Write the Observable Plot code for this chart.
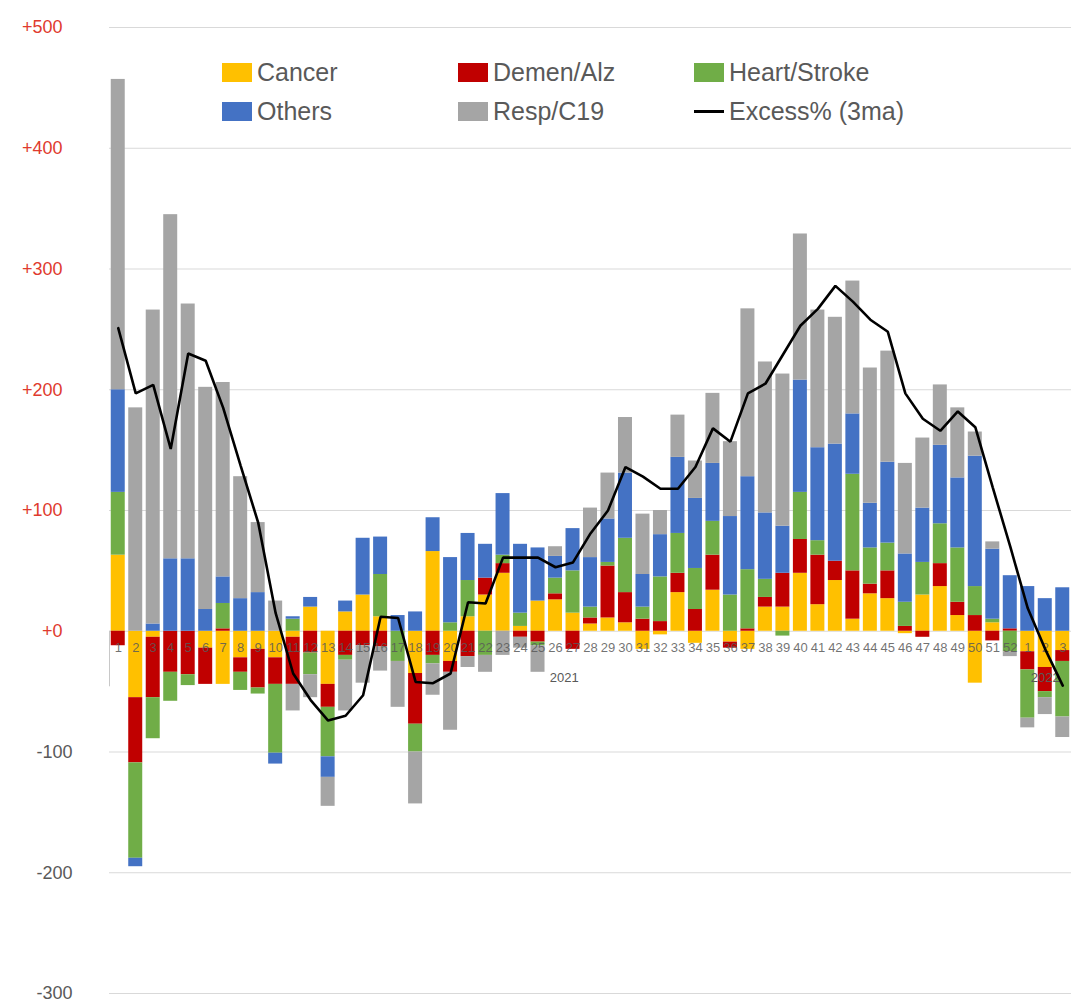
<!DOCTYPE html>
<html>
<head>
<meta charset="utf-8">
<script src="https://cdn.jsdelivr.net/npm/d3@7"></script>
<script src="https://cdn.jsdelivr.net/npm/@observablehq/plot@0.6"></script>
<style>
  html, body { margin: 0; padding: 0; background: #fff; }
  #wrap { position: relative; width: 1077px; height: 1002px; font-family: "Liberation Sans", Arial, sans-serif; }
  #legend { position: absolute; left: 222px; top: 53px; width: 720px; display: flex; flex-wrap: wrap; }
  .item { width: 236px; height: 39px; display: flex; align-items: center; font-size: 25px; color: #595959; white-space: nowrap; }
  .sw { display: inline-block; width: 30px; height: 19px; margin-right: 5px; }
  .ln { display: inline-block; width: 30px; height: 3px; background: #000; margin-right: 5px; }
</style>
</head>
<body>
<div id="wrap"><div id="chart"></div><div id="legend"></div></div>
<script>
// ---- data ----
const categories = ["Cancer", "Demen/Alz", "Heart/Stroke", "Others", "Resp/C19"];
const colors = ["#FFC000", "#C00000", "#70AD47", "#4472C4", "#A5A5A5"];
const weekLabels = ["1","2","3","4","5","6","7","8","9","10","11","12","13","14","15","16","17","18","19","20",
  "21","22","23","24","25","26","27","28","29","30","31","32","33","34","35","36","37","38","39","40",
  "41","42","43","44","45","46","47","48","49","50","51","52","1","2","3"];
const yearGroups = ["2021", "2022"];
const yearFirstWeek = [0, 52];
const yearLastWeek = [51, 54];
const cancer = [63,-55,-5,0,0,-14,-44,-22,-15,-22,-5,20,-44,16,30,12,0,-35,66,-25,
  12,30,48,4,25,26,15,6,11,7,-15,-3,32,-10,34,-9,-15,20,20,48,
  22,42,10,31,27,-2,30,37,13,-43,7,0,-17,-30,-16];
const demen = [-12,-54,-50,-34,-36,-30,2,-12,-32,-22,-39,-18,-19,-20,-12,-13,0,-42,-20,-9,
  -21,14,8,-5,-9,5,-15,5,43,25,10,8,16,18,29,-5,2,8,28,28,
  41,16,40,8,23,4,-5,19,11,13,-8,2,-15,-20,-9];
const heart = [52,-79,-34,-24,-9,0,21,-15,-5,-57,10,-18,-41,-4,0,35,-25,-23,-7,7,
  30,-20,7,11,-3,13,35,9,3,45,10,37,33,34,28,30,49,15,-4,39,
  12,0,80,30,23,20,27,33,45,24,3,-17,-40,-5,-46];
const others = [85,-7,6,60,60,18,22,27,32,-9,2,8,-17,9,47,31,13,16,28,54,
  39,28,51,57,44,18,35,41,36,54,27,35,63,58,48,65,77,55,39,93,
  77,97,50,37,67,40,45,65,58,108,58,44,37,27,36];
const resp = [257,185,260,285,211,184,161,101,58,25,-22,-19,-24,-42,-31,-20,-38,-43,-26,-48,
  -9,-14,-20,-9,-22,8,0,41,38,46,50,20,35,31,58,62,139,125,126,121,
  114,105,110,112,92,75,58,50,58,20,6,-4,-8,-14,-17];
const excess = [251,197,204,151,230,224,185,137,90,15,-35,-57,-74,-70,-53,12,11,-42,-43,-35,
  24,23,61,61,61,53,57,81,100,136,128,118,118,136,168,157,197,205,229,253,
  267,286,273,258,248,197,176,166,182,169,119,70,19,-15,-45];
const yTicksPos = [0, 100, 200, 300, 400, 500];
const yTicksNeg = [-100, -200, -300];

// ---- tidy table for the library ----
const series = [cancer, demen, heart, others, resp];
const rows = [];
weekLabels.forEach((w, i) => {
  categories.forEach((c, k) => rows.push({i, cat: c, value: series[k][i]}));
});
const idx = d3.range(weekLabels.length);

// ---- layout ----
const W = 1077, H = 1002, mL = 109, mR = 6, mT = 27, mB = 9;
const step = (W - mL - mR) / weekLabels.length;

// year group labels: centred under each group of weeks
const yearMarks = yearGroups.map((g, k) => {
  const mid = (yearFirstWeek[k] + yearLastWeek[k]) / 2;
  const base = Math.floor(mid);
  return Plot.text([k], {
    x: () => base, dx: (mid - base) * step,
    y: () => 0, dy: 47,
    text: () => g, fill: "#595959", fontSize: 13
  });
});

const chart = Plot.plot({
  width: W, height: H,
  marginLeft: mL, marginRight: mR, marginTop: mT, marginBottom: mB,
  style: {fontFamily: "Liberation Sans, Arial, sans-serif", background: "white"},
  x: {type: "band", domain: idx, paddingInner: 0.2, paddingOuter: 0.1, round: false, axis: null},
  y: {domain: [-300, 500], axis: null},
  color: {domain: categories, range: colors},
  marks: [
    Plot.gridY([...yTicksNeg, ...yTicksPos], {stroke: "#d9d9d9", strokeOpacity: 1, strokeWidth: 1}),
    Plot.barY(rows, {x: "i", y: "value", fill: "cat"}),
    Plot.ruleX([0], {x: d => d, dx: -step / 2, y1: 0, y2: -46, stroke: "#c8c8c8"}),
    Plot.text(idx, {x: d => d, y: 0, text: d => weekLabels[d], dy: 17, fill: "#595959", fillOpacity: 0.85, fontSize: 13}),
    ...yearMarks,
    Plot.line(idx, {x: d => d, y: d => excess[d], stroke: "#000", strokeWidth: 2.6, strokeLinejoin: "miter"}),
    Plot.axisY(yTicksPos, {tickSize: 0, tickPadding: 47, fontSize: 18, color: "#e03a2e", label: null,
      tickFormat: d => "+" + d}),
    Plot.axisY(yTicksNeg, {tickSize: 0, tickPadding: 37, fontSize: 18, color: "#595959", label: null,
      tickFormat: d => String(d)})
  ]
});
document.getElementById("chart").appendChild(chart);

// ---- legend ----
const legendItems = [
  {name: "Cancer", color: colors[0]},
  {name: "Demen/Alz", color: colors[1]},
  {name: "Heart/Stroke", color: colors[2]},
  {name: "Others", color: colors[3]},
  {name: "Resp/C19", color: colors[4]},
  {name: "Excess% (3ma)", line: true}
];
const lg = document.getElementById("legend");
legendItems.forEach(it => {
  const d = document.createElement("div");
  d.className = "item";
  const s = document.createElement("span");
  if (it.line) s.className = "ln"; else { s.className = "sw"; s.style.background = it.color; }
  d.appendChild(s);
  d.appendChild(document.createTextNode(it.name));
  lg.appendChild(d);
});
</script>
</body>
</html>
